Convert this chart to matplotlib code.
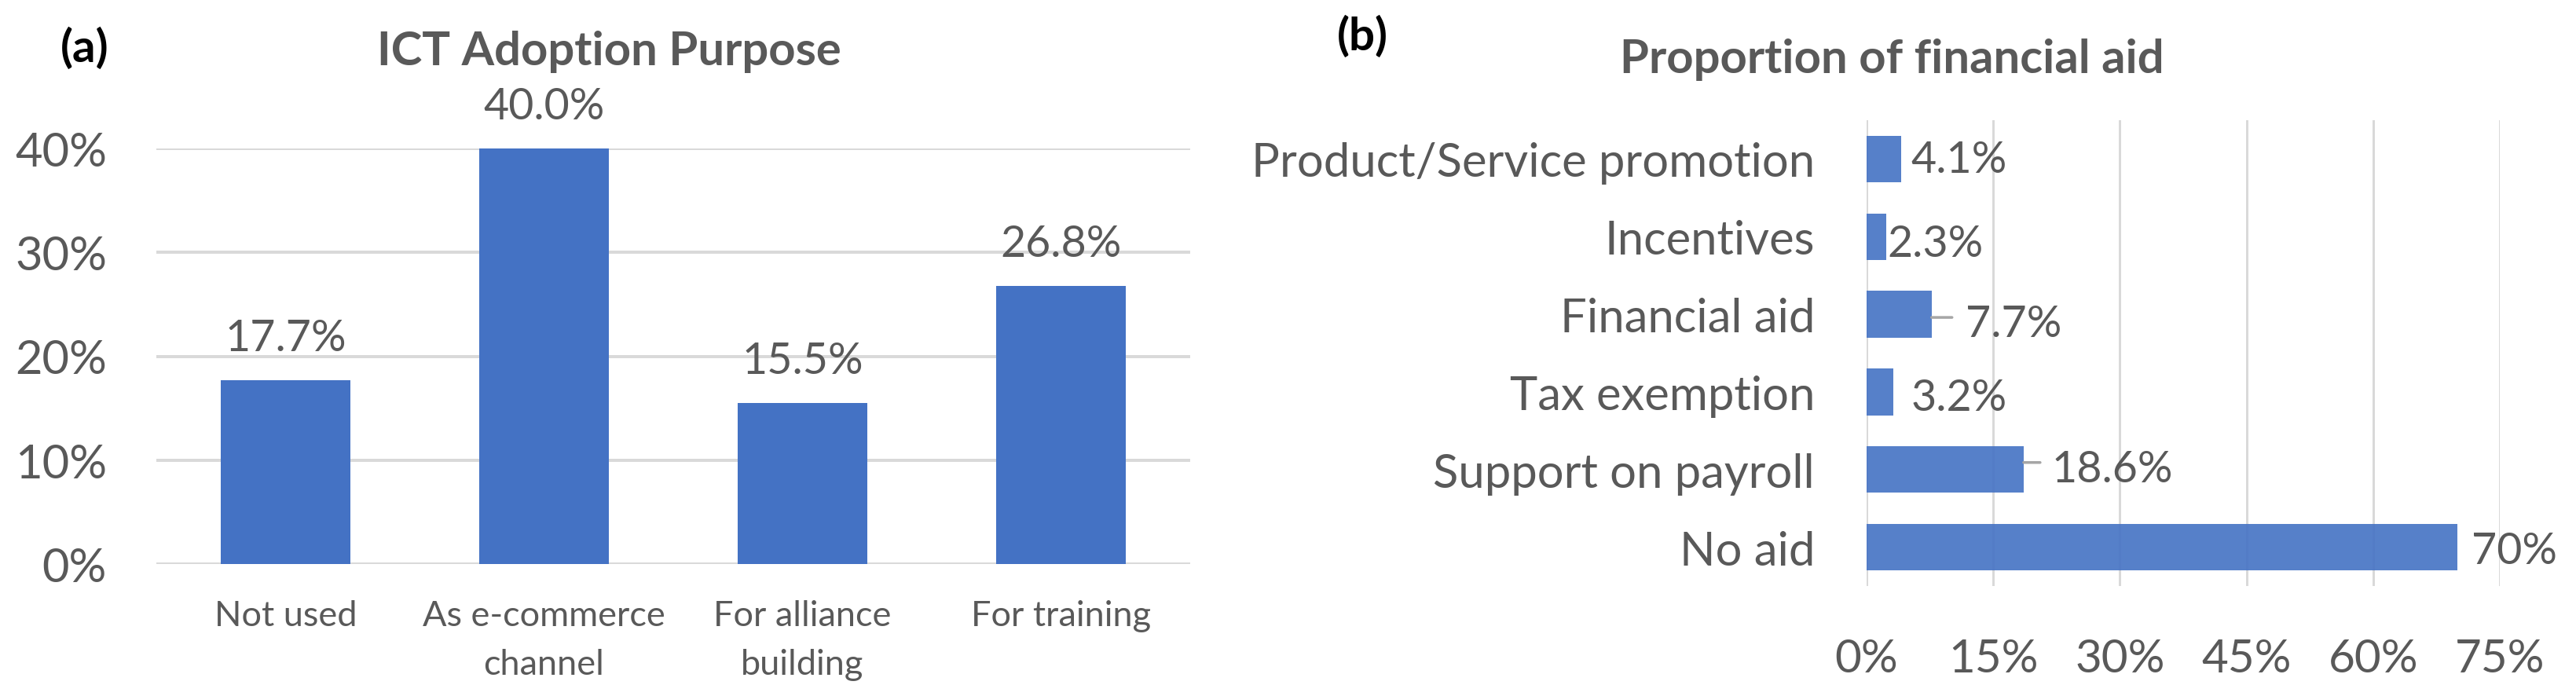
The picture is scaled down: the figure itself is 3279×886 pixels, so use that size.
import matplotlib
matplotlib.use("Agg")
import matplotlib.pyplot as plt
from matplotlib.ticker import FuncFormatter
from matplotlib.transforms import offset_copy

plt.rcParams['font.family'] = ['Lato', 'DejaVu Sans']

# ---------------- data ----------------
ict_categories = ["Not used", "As e-commerce\nchannel", "For alliance\nbuilding", "For training"]
ict_values = [17.7, 40.0, 15.5, 26.8]
ict_labels = ["17.7%", "40.0%", "15.5%", "26.8%"]
ict_yticks = [0, 10, 20, 30, 40]

aid_categories = ["Product/Service promotion", "Incentives", "Financial aid",
                  "Tax exemption", "Support on payroll", "No aid"]
aid_values = [4.1, 2.3, 7.7, 3.2, 18.6, 70.0]
aid_labels = ["4.1%", "2.3%", "7.7%", "3.2%", "18.6%", "70%"]
aid_xticks = [0, 15, 30, 45, 60, 75]

# ---------------- style ----------------
W, H = 3279, 887
DPI = 100
GRAY = "#595959"
GRID = "#D9D9D9"
BLUE = "#4472C4"
PX = 72.0 / DPI  # points per pixel

# manual label placement (pixels) for panel (b)
aid_label_dx = [12, 2, 43, 22, 36, 18]
aid_label_dy = [-3, 5, 8, 3, -5, 0]   # downward shift
aid_leader_len = [0, 0, 26, 0, 21, 0]
aid_leader_dy = [0, 0, 4, 0, -9, 0]

fig = plt.figure(figsize=(W / DPI, H / DPI), dpi=DPI)

# ---------------- panel (a) ----------------
ax1 = fig.add_axes([199 / W, (H - 719) / H, (1515 - 199) / W, (719 - 190) / H])
x = range(len(ict_categories))
ax1.bar(x, ict_values, width=0.5, color=BLUE, zorder=3)
ax1.set_xlim(-0.5, len(ict_categories) - 0.5)
ax1.set_ylim(0, 40)
ax1.set_yticks(ict_yticks)
ax1.yaxis.set_major_formatter(FuncFormatter(lambda v, p: f"{v:.0f}%"))
ax1.set_xticks(list(x))
ax1.set_xticklabels(ict_categories, linespacing=1.65, multialignment='center')
ax1.grid(axis='y', color=GRID, linewidth=4 * PX, zorder=0)
ax1.set_axisbelow(True)
for s in ax1.spines.values():
    s.set_visible(False)
ax1.tick_params(axis='y', length=0, pad=63 * PX, labelsize=43, labelcolor=GRAY)
ax1.tick_params(axis='x', length=0, pad=45 * PX, labelsize=32.5, labelcolor=GRAY)
for i, (v, lab) in enumerate(zip(ict_values, ict_labels)):
    ax1.annotate(lab, xy=(i, v), xytext=(0, 38), textcoords='offset pixels',
                 ha='center', va='baseline', fontsize=40, color=GRAY)

fig.text(775 / W, (H - 83) / H, "ICT Adoption Purpose", ha='center', va='baseline',
         fontsize=43, fontweight='bold', color=GRAY)
fig.text(108 / W, (H - 62) / H, "(a)", ha='center', va='center',
         fontsize=42, fontweight='bold', color='black')

# ---------------- panel (b) ----------------
ax2 = fig.add_axes([2376 / W, (H - 747) / H, (3182 - 2376) / W, (747 - 154) / H])
y = list(range(len(aid_categories)))
ax2.barh(y, aid_values, height=0.6, color=BLUE, alpha=0.9, zorder=3)
ax2.set_ylim(len(aid_categories) - 0.5, -0.5)
ax2.set_xlim(0, 75)
ax2.set_xticks(aid_xticks)
ax2.xaxis.set_major_formatter(FuncFormatter(lambda v, p: f"{v:.0f}%"))
ax2.set_yticks(y)
ax2.set_yticklabels(aid_categories)
ax2.grid(axis='x', color=GRID, linewidth=3 * PX, zorder=0)
ax2.set_axisbelow(True)
for s in ax2.spines.values():
    s.set_visible(False)
ax2.tick_params(axis='x', length=0, pad=66 * PX, labelsize=42, labelcolor=GRAY)
ax2.tick_params(axis='y', length=0, pad=66 * PX, labelsize=43, labelcolor=GRAY)
for i, (v, lab) in enumerate(zip(aid_values, aid_labels)):
    dx = aid_label_dx[i]
    dy = -(20 + aid_label_dy[i])
    ax2.annotate(lab, xy=(v, i), xytext=(dx, dy), textcoords='offset pixels',
                 ha='left', va='baseline', fontsize=40, color=GRAY, zorder=5)
    if aid_leader_len[i]:
        tr = offset_copy(ax2.transData, fig=fig, x=0, y=-aid_leader_dy[i] * PX, units='points')
        ax2.annotate("", xy=(v, i), xycoords=tr,
                     xytext=(aid_leader_len[i], 0), textcoords='offset pixels',
                     arrowprops=dict(arrowstyle='-', color="#A6A6A6",
                                     lw=3.5 * PX, shrinkA=0, shrinkB=0))

fig.text(2408 / W, (H - 93) / H, "Proportion of financial aid", ha='center', va='baseline',
         fontsize=43, fontweight='bold', color=GRAY)
fig.text(1734 / W, (H - 47) / H, "(b)", ha='center', va='center',
         fontsize=42, fontweight='bold', color='black')

fig.savefig("out.png", dpi=DPI, facecolor='white')
